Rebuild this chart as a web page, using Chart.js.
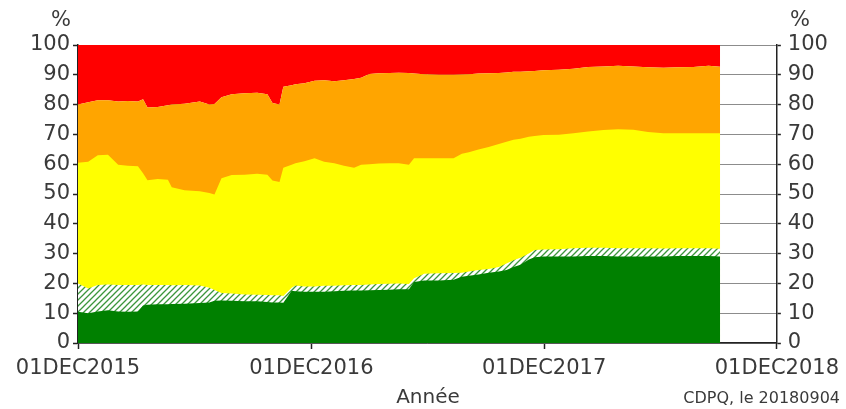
<!DOCTYPE html>
<html>
<head>
<meta charset="utf-8">
<script src="https://cdn.jsdelivr.net/npm/chart.js@4.4.1/dist/chart.umd.min.js"></script>
<style>
  html, body { margin: 0; padding: 0; background: #fff; }
</style>
</head>
<body>
<canvas id="chart" width="846" height="409"></canvas>
<script>
const startDate = '2015-12-01';
const endDate = '2018-12-01';
const xTickDates = ['2015-12-01', '2016-12-01', '2017-12-01', '2018-12-01'];
const xTickLabels = ['01DEC2015', '01DEC2016', '01DEC2017', '01DEC2018'];

const dates = [
  '2015-12-01', '2015-12-17', '2016-01-01', '2016-01-17', '2016-02-02', '2016-02-17', '2016-03-04',
  '2016-03-12', '2016-03-19', '2016-04-04', '2016-04-20', '2016-04-26', '2016-05-16', '2016-06-09',
  '2016-06-24', '2016-07-02', '2016-07-13', '2016-07-29', '2016-08-18', '2016-09-07', '2016-09-23',
  '2016-10-01', '2016-10-12', '2016-10-18', '2016-10-31', '2016-11-06', '2016-11-20', '2016-12-06',
  '2016-12-21', '2017-01-06', '2017-01-21', '2017-02-06', '2017-02-17', '2017-03-02', '2017-03-17',
  '2017-04-02', '2017-04-17', '2017-05-03', '2017-05-11', '2017-05-27', '2017-06-19', '2017-07-12',
  '2017-07-25', '2017-08-05', '2017-08-20', '2017-09-05', '2017-09-21', '2017-10-03', '2017-10-14',
  '2017-10-25', '2017-11-07', '2017-11-16', '2017-11-30', '2017-12-24', '2018-01-16', '2018-02-08',
  '2018-03-04', '2018-03-27', '2018-04-20', '2018-05-13', '2018-06-06', '2018-06-29', '2018-07-23',
  '2018-08-16', '2018-09-03'
];

// cumulative level (%) at the top of each band
const greenTop = [
  10.5, 10.0, 10.6, 11.0, 10.6, 10.5, 10.6,
  12.6, 12.8, 13.0, 13.0, 13.1, 13.2, 13.4,
  13.6, 14.2, 14.3, 14.2, 14.0, 14.0, 13.8,
  13.6, 13.6, 13.5, 17.5, 17.4, 17.2, 17.2,
  17.2, 17.4, 17.5, 17.6, 17.6, 17.7, 17.8,
  17.9, 18.0, 18.0, 20.5, 21.0, 21.0, 21.2,
  22.2, 22.6, 23.0, 23.6, 24.0, 24.5, 25.5,
  26.3, 28.0, 28.8, 29.0, 29.0, 29.0, 29.2,
  29.2, 29.0, 29.0, 29.0, 29.0, 29.2, 29.2,
  29.2, 29.0
];
const hatchTop = [
  20.0, 18.3, 19.5, 19.6, 19.5, 19.5, 19.5,
  19.6, 19.5, 19.5, 19.5, 19.4, 19.5, 19.3,
  18.5, 17.8, 16.8, 16.6, 16.3, 16.2, 16.1,
  16.0, 16.0, 15.8, 18.5, 19.3, 19.0, 19.0,
  19.2, 19.2, 19.4, 19.5, 19.5, 19.6, 19.8,
  19.9, 20.0, 19.8, 21.7, 23.2, 23.4, 23.5,
  23.6, 24.0, 24.5, 24.8, 25.5, 26.7, 27.8,
  28.6, 30.0, 31.2, 31.4, 31.5, 31.8, 32.0,
  32.0, 31.8, 31.8, 31.8, 31.7, 31.8, 31.8,
  31.8, 31.6
];
const yellowTop = [
  60.5, 60.8, 63.0, 63.2, 59.8, 59.5, 59.3,
  57.0, 54.6, 55.0, 54.8, 52.3, 51.3, 50.9,
  50.3, 49.8, 55.3, 56.4, 56.5, 56.8, 56.5,
  54.5, 54.0, 58.8, 59.8, 60.3, 61.0, 62.0,
  60.8, 60.3, 59.5, 58.8, 59.8, 60.0, 60.2,
  60.3, 60.3, 59.8, 62.0, 62.0, 62.0, 62.0,
  63.5, 64.0, 64.9, 65.8, 66.8, 67.5, 68.2,
  68.5, 69.2, 69.5, 69.8, 69.9, 70.4, 71.0,
  71.5, 71.7, 71.6, 70.8, 70.4, 70.4, 70.4,
  70.4, 70.4
];
const orangeTop = [
  80.0, 80.8, 81.5, 81.5, 81.0, 81.2, 81.0,
  81.8, 79.0, 79.2, 79.8, 80.0, 80.3, 81.0,
  80.0, 80.2, 82.5, 83.5, 83.8, 84.0, 83.5,
  80.5, 80.0, 86.0, 86.5, 86.8, 87.2, 88.0,
  88.2, 87.8, 88.2, 88.6, 89.0, 90.3, 90.5,
  90.6, 90.7, 90.6, 90.4, 90.2, 90.0, 90.0,
  90.1, 90.2, 90.4, 90.5, 90.6, 90.8, 91.0,
  91.0, 91.2, 91.3, 91.5, 91.7, 92.0, 92.6,
  92.8, 93.0, 92.8, 92.5, 92.4, 92.5, 92.6,
  93.0, 92.7
];

const FONT = 'DejaVu Sans';
const TEXT = '#3a3a3a';
const AXIS = '#222222';

function dayOf(d) {
  return (Date.parse(d) - Date.parse(startDate)) / 86400000;
}
function points(values) {
  return values.map((v, i) => ({ x: dayOf(dates[i]), y: v }));
}

const canvas = document.getElementById('chart');
const ctx = canvas.getContext('2d');

function hatchPattern() {
  const s = 6;
  const c = document.createElement('canvas');
  c.width = s; c.height = s;
  const g = c.getContext('2d');
  g.fillStyle = '#ffffff';
  g.fillRect(0, 0, s, s);
  g.strokeStyle = '#3c963c';
  g.lineWidth = 1.3;
  g.beginPath();
  g.moveTo(0, s); g.lineTo(s, 0);
  g.moveTo(-1, 1); g.lineTo(1, -1);
  g.moveTo(s - 1, s + 1); g.lineTo(s + 1, s - 1);
  g.stroke();
  return ctx.createPattern(c, 'repeat');
}

// extra labels: % units, axis title, source note
const extraText = {
  id: 'extraText',
  afterDraw(chart) {
    const c = chart.ctx;
    c.save();
    c.fillStyle = TEXT;
    c.textBaseline = 'middle';
    c.textAlign = 'center';
    c.font = '21px "' + FONT + '"';
    c.fillText('%', 61, 21);
    c.fillText('%', 800, 21);
    c.font = '20px "' + FONT + '"';
    c.fillText('Année', 428, 398);
    c.textAlign = 'right';
    c.font = '16px "' + FONT + '"';
    c.fillText('CDPQ, le 20180904', 840, 399);
    c.restore();
  }
};

const area = { borderWidth: 0, pointRadius: 0, tension: 0 };

new Chart(ctx, {
  type: 'line',
  data: {
    datasets: [
      Object.assign({ label: 'Vert', data: points(greenTop), backgroundColor: '#008000', fill: 'origin' }, area),
      Object.assign({ label: 'Hachuré', data: points(hatchTop), backgroundColor: hatchPattern(), fill: 'origin' }, area),
      Object.assign({ label: 'Jaune', data: points(yellowTop), backgroundColor: '#ffff00', fill: 'origin' }, area),
      Object.assign({ label: 'Orange', data: points(orangeTop), backgroundColor: '#ffa500', fill: 'origin' }, area),
      Object.assign({ label: 'Rouge', data: points(orangeTop), backgroundColor: '#ff0000', fill: 'end' }, area)
    ]
  },
  options: {
    responsive: false,
    animation: false,
    layout: { padding: { top: 45, left: 0, right: 0, bottom: 0 } },
    plugins: {
      legend: { display: false },
      tooltip: { enabled: false }
    },
    scales: {
      x: {
        type: 'linear',
        min: 0,
        max: dayOf(endDate),
        afterBuildTicks: s => { s.ticks = xTickDates.map(d => ({ value: dayOf(d) })); },
        afterFit: s => { s.height = 66; },
        ticks: {
          callback: (v, i) => xTickLabels[i],
          maxRotation: 0,
          autoSkip: false,
          padding: 7,
          color: TEXT,
          font: { family: FONT, size: 21 }
        },
        grid: { drawOnChartArea: false, tickLength: 6, tickColor: AXIS, tickWidth: 1.5 },
        border: { color: AXIS, width: 1.5 }
      },
      y: {
        position: 'left',
        min: 0,
        max: 100,
        afterFit: s => { s.width = 78; },
        ticks: {
          stepSize: 10,
          padding: 3,
          color: TEXT,
          font: { family: FONT, size: 21 }
        },
        grid: { color: '#8c8c8c', lineWidth: 1, tickLength: 5, tickColor: AXIS, tickWidth: 1.5 },
        border: { color: AXIS, width: 1.5 }
      },
      y2: {
        position: 'right',
        min: 0,
        max: 100,
        afterFit: s => { s.width = 67; },
        ticks: {
          stepSize: 10,
          padding: 7,
          color: TEXT,
          font: { family: FONT, size: 21 }
        },
        grid: { drawOnChartArea: false, tickLength: 4, tickColor: AXIS, tickWidth: 1.5 },
        border: { color: AXIS, width: 1.5 }
      }
    }
  },
  plugins: [extraText]
});
</script>
</body>
</html>
